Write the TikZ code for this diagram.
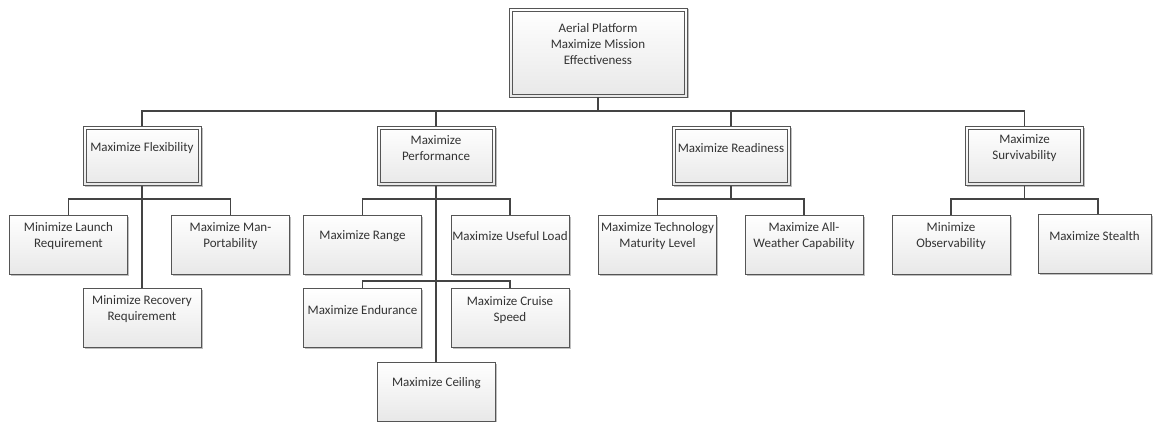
\documentclass[tikz,border=0pt]{standalone}
\usepackage{fontspec}
\setmainfont{Carlito}
\usetikzlibrary{shadows}
\definecolor{edge}{HTML}{555555}
\definecolor{wire}{HTML}{444444}
\definecolor{ink}{HTML}{333333}
\tikzset{
  box/.style={draw=edge, line width=0.8pt, top color=white, bottom color=black!9,
    minimum width=118pt, minimum height=59pt, inner sep=0pt,
    drop shadow={shadow xshift=1.5pt, shadow yshift=-1.5pt, opacity=0.25, fill=black}},
  goal/.style={box, path picture={
      \draw[edge, line width=0.8pt]
        ([shift={(3pt,3pt)}]path picture bounding box.south west) rectangle
        ([shift={(-3pt,-3pt)}]path picture bounding box.north east);}},
  leaf/.style={box},
  txt/.style={text=ink, align=center, yshift=8pt, font=\fontsize{13}{16}\selectfont},
  conn/.style={draw=wire, line width=1.8pt},
}
\begin{document}
\begin{tikzpicture}[x=1pt, y=-1pt]
\useasboundingbox (0,0) rectangle (1153,422);

% top objective
\node[goal, minimum width=178pt, minimum height=89pt,
  label={[txt]center:Aerial Platform\\Maximize Mission\\Effectiveness}] (top) at (598,52.5) {};

% second level
\node[goal, label={[txt]center:Maximize Flexibility}] (flex) at (142,156) {};
\node[goal, label={[txt]center:Maximize\\Performance}] (perf) at (436,156) {};
\node[goal, label={[txt]center:Maximize Readiness}] (ready) at (731,156) {};
\node[goal, label={[txt]center:Maximize\\Survivability}] (surv) at (1024.5,156) {};

% flexibility
\node[leaf, label={[txt]center:Minimize Launch\\Requirement}] (launch) at (68.5,244.5) {};
\node[leaf, label={[txt]center:Maximize Man-\\Portability}] (manport) at (230.5,244.5) {};
\node[leaf, label={[txt]center:Minimize Recovery\\Requirement}] (recovery) at (142,317.5) {};

% performance
\node[leaf, label={[txt]center:Maximize Range}] (range) at (362.5,244.5) {};
\node[leaf, label={[txt]center:Maximize Useful Load}] (useful) at (510,244.5) {};
\node[leaf, label={[txt]center:Maximize Endurance}] (endur) at (362.5,318) {};
\node[leaf, label={[txt]center:Maximize Cruise\\Speed}] (cruise) at (510,318) {};
\node[leaf, label={[txt]center:Maximize Ceiling}] (ceiling) at (436.5,391.5) {};

% readiness
\node[leaf, label={[txt]center:Maximize Technology\\Maturity Level}] (tech) at (657.5,244.5) {};
\node[leaf, label={[txt]center:Maximize All-\\Weather Capability}] (allw) at (804,244.5) {};

% survivability
\node[leaf, label={[txt]center:Minimize\\Observability}] (obs) at (951,244.5) {};
\node[leaf, minimum width=113pt, label={[txt]center:Maximize Stealth}] (stealth) at (1094.5,244) {};

% junction points
\coordinate (bus) at (598,111);
\coordinate (fb) at (142,199);
\coordinate (pb1) at (436,199);
\coordinate (pb2) at (436,281);
\coordinate (rb) at (731,199);
\coordinate (sb) at (1024.5,199);

% connectors
\begin{scope}[conn]
\draw (top.south) -- (bus);
\draw (flex.north) |- (bus) -| (surv.north);
\draw (perf.north) -- (perf.north |- bus);
\draw (ready.north) -- (ready.north |- bus);

\draw (flex.south) -- (recovery.north);
\draw (launch.north) |- (fb) -| (manport.north);

\draw (perf.south) -- (ceiling.north -| perf.south);
\draw (range.north) |- (pb1) -| (useful.north);
\draw (endur.north) |- (pb2) -| (cruise.north);

\draw (ready.south) -- (rb);
\draw (tech.north) |- (rb) -| (allw.north);

\draw (surv.south) -- (sb);
\draw (obs.north) |- (sb) -| ([xshift=3.5pt]stealth.north);
\end{scope}
\end{tikzpicture}
\end{document}
